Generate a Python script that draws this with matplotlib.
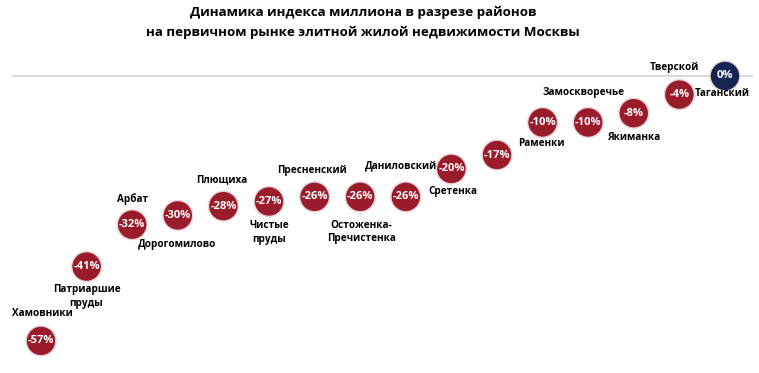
import matplotlib.pyplot as plt

# данные: изменение индекса миллиона по районам, %
values = [-57, -41, -32, -30, -28, -27, -26, -26, -26, -20, -17, -10, -10, -8, -4, 0]
names = ['Хамовники', 'Патриаршие\nпруды', 'Арбат', 'Дорогомилово', 'Плющиха',
         'Чистые\nпруды', 'Пресненский', 'Остоженка-\nПречистенка', 'Даниловский',
         'Сретенка', '', 'Раменки', 'Замоскворечье', 'Якиманка', 'Тверской', 'Таганский']

# смещение подписи относительно кружка (пиксели)
offsets = [(1, 27), (0, -30), (0, 26), (-1, -29), (-2, 26), (0, -31), (-3, 26), (1, -35),
           (-5, 31), (1, -23), (0, 0), (-1, -21), (-5, 30), (0, -24), (-5, 27), (-3, -18)]

red = '#9A1B2B'
navy = '#152450'
colors = [navy if v == 0 else red for v in values]

plt.rcParams['font.family'] = ['Open Sans', 'DejaVu Sans']

fig = plt.figure(figsize=(7.59, 3.73), dpi=100)
ax = fig.add_axes([0, 0, 1, 1])
ax.set_xlim(-0.899, 15.746)
ax.set_ylim(-63.9, 16.35)
ax.axis('off')

ax.axhline(0, xmin=13 / 759, xmax=752 / 759, color='#DADADA', lw=1.5, zorder=1)

x = list(range(len(values)))
ax.scatter(x, values, s=460, c=colors, edgecolors='#EBD3D6', linewidths=1.0, zorder=3)

for i, v in enumerate(values):
    ax.text(i, v, f'{v}%', color='white', fontsize=8, fontweight='bold',
            ha='center', va='center', zorder=4)
    if names[i]:
        ax.annotate(names[i], (i, v), xytext=offsets[i], textcoords='offset pixels',
                    ha='center', va='center', fontsize=7.2, fontweight='bold',
                    linespacing=1.3, zorder=4)

fig.text(0.4787, 0.968, 'Динамика индекса миллиона в разрезе районов',
         ha='center', va='center', fontsize=9.6, fontweight='bold')
fig.text(0.4787, 0.912, 'на первичном рынке элитной жилой недвижимости Москвы',
         ha='center', va='center', fontsize=9.6, fontweight='bold')

fig.savefig('out.png', dpi=100)
